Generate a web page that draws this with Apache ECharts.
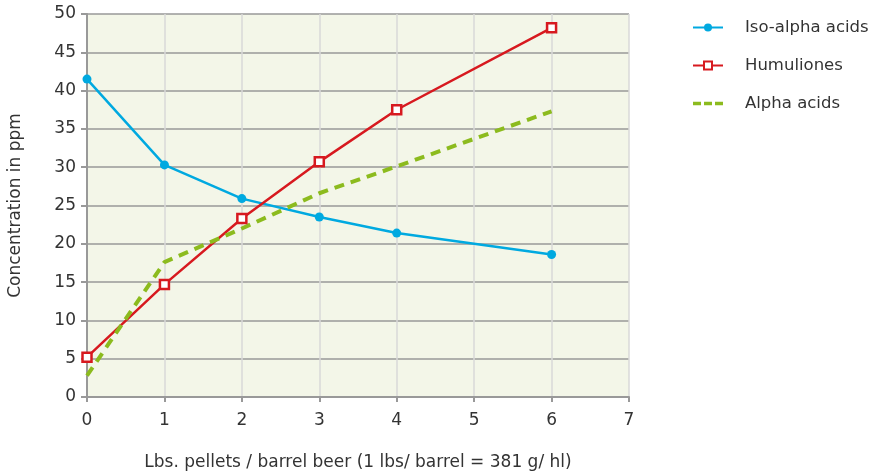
<!DOCTYPE html>
<html><head><meta charset="utf-8">
<script src="https://cdn.jsdelivr.net/npm/echarts@6/dist/echarts.min.js"></script>
<style>html,body{margin:0;padding:0;background:#fff}#c{width:873px;height:476px}</style>
</head><body><div id="c"></div>
<script>
const xIso = [0, 1, 2, 3, 4, 6];
const isoAlpha = [41.5, 30.3, 25.9, 23.5, 21.4, 18.6];
const xHum = [0, 1, 2, 3, 4, 6];
const humuliones = [5.2, 14.7, 23.3, 30.7, 37.5, 48.2];
const xAlpha = [0, 1, 2, 3, 4, 6];
const alphaAcids = [2.8, 17.6, 22.0, 26.6, 30.1, 37.3];
const seriesNames = ['Iso-alpha acids', 'Humuliones', 'Alpha acids'];
const xAxisName = 'Lbs. pellets / barrel beer (1 lbs/ barrel = 381 g/ hl)';
const yAxisName = 'Concentration in ppm';

const pair = (xs, ys) => xs.map((x, i) => [x, ys[i]]);
const font = 'DejaVu Sans';
const dashIcon = 'path://M0,0h0.01v0.01h-0.01z M0,10h0.01v0.01h-0.01z M0,3.2h8v3.6h-8z M11,3.2h8v3.6h-8z M22,3.2h8v3.6h-8z';
const chart = echarts.init(document.getElementById('c'));
chart.setOption({
  animation: false,
  textStyle: { fontFamily: font },
  grid: { left: 87, right: 244, top: 14, bottom: 79, show: true, backgroundColor: '#f3f6e8', borderWidth: 0, outerBoundsMode: 'none', containLabel: false },
  legend: {
    orient: 'vertical', left: 687, top: 14, itemWidth: 30, itemHeight: 10, itemGap: 21,
    textStyle: { fontSize: 16.5, color: '#333', fontFamily: font, padding: [0, 0, 0, 17] },
    data: [seriesNames[0], seriesNames[1], { name: seriesNames[2], icon: dashIcon }]
  },
  xAxis: {
    type: 'value', min: 0, max: 7, interval: 1,
    name: xAxisName, nameLocation: 'middle', nameGap: 57,
    nameTextStyle: { fontSize: 17, color: '#333' },
    axisLine: { show: true, lineStyle: { color: '#999', width: 2 } },
    axisTick: { show: true, length: 5, lineStyle: { color: '#999', width: 2 } },
    axisLabel: { fontSize: 17, color: '#333', margin: 15 },
    splitLine: { show: true, lineStyle: { color: '#d9d9d9', width: 1.5 } }
  },
  yAxis: {
    type: 'value', min: 0, max: 50, interval: 5,
    name: yAxisName, nameLocation: 'middle', nameGap: 63,
    nameTextStyle: { fontSize: 17, color: '#333' },
    axisLine: { show: true, lineStyle: { color: '#999', width: 2 } },
    axisTick: { show: true, length: 6, lineStyle: { color: '#999', width: 2 } },
    axisLabel: { fontSize: 17, color: '#333', margin: 11 },
    splitLine: { show: true, lineStyle: { color: '#999', width: 1.5 } }
  },
  series: [
    { name: seriesNames[0], type: 'line', data: pair(xIso, isoAlpha), symbol: 'circle', symbolSize: 9,
      itemStyle: { color: '#00a9e0' }, lineStyle: { color: '#00a9e0', width: 2.5 } },
    { name: seriesNames[1], type: 'line', data: pair(xHum, humuliones), symbol: 'rect', symbolSize: 9,
      itemStyle: { color: '#fff', borderColor: '#d7191f', borderWidth: 2.5 }, lineStyle: { color: '#d7191f', width: 2.5 } },
    { name: seriesNames[2], type: 'line', data: pair(xAlpha, alphaAcids), symbol: 'none',
      itemStyle: { color: '#8cbb1e' }, lineStyle: { color: '#8cbb1e', width: 4, type: [10, 7] } }
  ]
});
</script></body></html>
